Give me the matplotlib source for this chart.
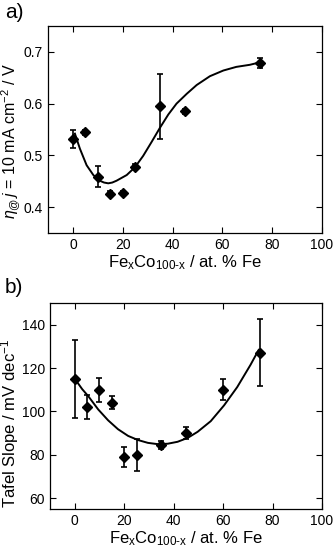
import matplotlib
matplotlib.use("Agg")
import matplotlib.pyplot as plt

plt.rcParams['font.family'] = ['Liberation Sans', 'DejaVu Sans']
plt.rcParams['mathtext.fontset'] = 'custom'
plt.rcParams['mathtext.rm'] = 'Liberation Sans'
plt.rcParams['mathtext.it'] = 'Liberation Sans:italic'
plt.rcParams['mathtext.bf'] = 'Liberation Sans:bold'

# Panel a data
a_x = [0, 5, 10, 15, 20, 25, 35, 45, 75]
a_y = [0.532, 0.545, 0.459, 0.426, 0.428, 0.478, 0.595, 0.585, 0.679]
a_err = [0.018, 0.005, 0.020, 0.005, 0.004, 0.005, 0.063, 0.005, 0.010]
a_fit_x = [0.8, 2.8, 5.5, 8.2, 10.8, 12.5, 14.2, 15.8, 17.5, 21.6, 24.9, 28.2, 31.6, 34.9,
           38.3, 41.6, 45.7, 49.7, 55, 60.4, 65.6, 71, 74.4]
a_fit_y = [0.542, 0.513, 0.481, 0.462, 0.451, 0.4475, 0.446, 0.4475, 0.451, 0.462, 0.477, 0.499,
           0.526, 0.553, 0.579, 0.600, 0.619, 0.636, 0.653, 0.664, 0.671, 0.675, 0.679]

# Panel b data
b_x = [0, 5, 10, 15, 20, 25, 35, 45, 60, 75]
b_y = [115, 102, 110, 104, 79, 80, 84.5, 90, 110, 127]
b_err = [18, 5.5, 5.5, 3, 4.6, 7.3, 1.8, 2.8, 4.9, 15.5]
b_fit_x = [0, 3, 5.5, 9.5, 13.5, 17.5, 21.6, 25.6, 29.6, 33.6, 37.6, 41.6, 45.7,
           49.7, 55, 60.4, 65.7, 71.1, 74.4]
b_fit_y = [115.1, 110.3, 107.0, 100.9, 95.9, 91.8, 88.7, 86.8, 85.5, 84.9, 85.1, 86.0,
           87.8, 90.6, 95.5, 102.8, 111.2, 121.5, 128.4]

x_ticks = [0, 20, 40, 60, 80, 100]
a_yticks = [0.4, 0.5, 0.6, 0.7]
b_yticks = [60, 80, 100, 120, 140]

xlabel = r'Fe$_\mathregular{x}$Co$_\mathregular{100\text{-}x}$ / at. % Fe'

fig = plt.figure(figsize=(3.35, 5.5), dpi=100)
ax1 = fig.add_axes([48/335, 1-233/550, 274/335, 207/550])
ax2 = fig.add_axes([50/335, 1-509/550, 272/335, 206/550])

def style(ax):
    ax.tick_params(direction='in', top=True, right=True, length=4, width=0.8,
                   labelsize=10, pad=3.5)
    for s in ax.spines.values():
        s.set_linewidth(0.9)
    ax.set_xlim(-10, 100)
    ax.set_xticks(x_ticks)

ax1.plot(a_fit_x, a_fit_y, color='black', lw=1.4)
ax1.errorbar(a_x, a_y, yerr=a_err, fmt='D', color='black', ms=5.5, capsize=2.5,
             elinewidth=1.2, capthick=1.2)
style(ax1)
ax1.set_ylim(0.35, 0.75)
ax1.set_yticks(a_yticks)
ax1.set_yticklabels(['0.4', '0.5', '0.6', '0.7'])
ax1.set_xlabel(xlabel, fontsize=12, labelpad=1)
ax1.set_ylabel(r'$\eta_{@}\,j$ = 10 mA cm$^{-2}$ / V', fontsize=11.5)
ax1.yaxis.set_label_coords(-0.093, 0.444)

ax2.plot(b_fit_x, b_fit_y, color='black', lw=1.4)
ax2.errorbar(b_x, b_y, yerr=b_err, fmt='D', color='black', ms=5.5, capsize=2.5,
             elinewidth=1.2, capthick=1.2)
style(ax2)
ax2.set_ylim(55, 150)
ax2.set_yticks(b_yticks)
ax2.set_xlabel(xlabel, fontsize=12, labelpad=1)
ax2.set_ylabel(r'Tafel Slope / mV dec$^{-1}$', fontsize=12)
ax2.yaxis.set_label_coords(-0.105, 0.415)

fig.text(5/335, 1-3/550, 'a)', fontsize=15, va='top', ha='left')
fig.text(5/335, 1-278/550, 'b)', fontsize=15, va='top', ha='left')

fig.savefig('out.png', dpi=100)
